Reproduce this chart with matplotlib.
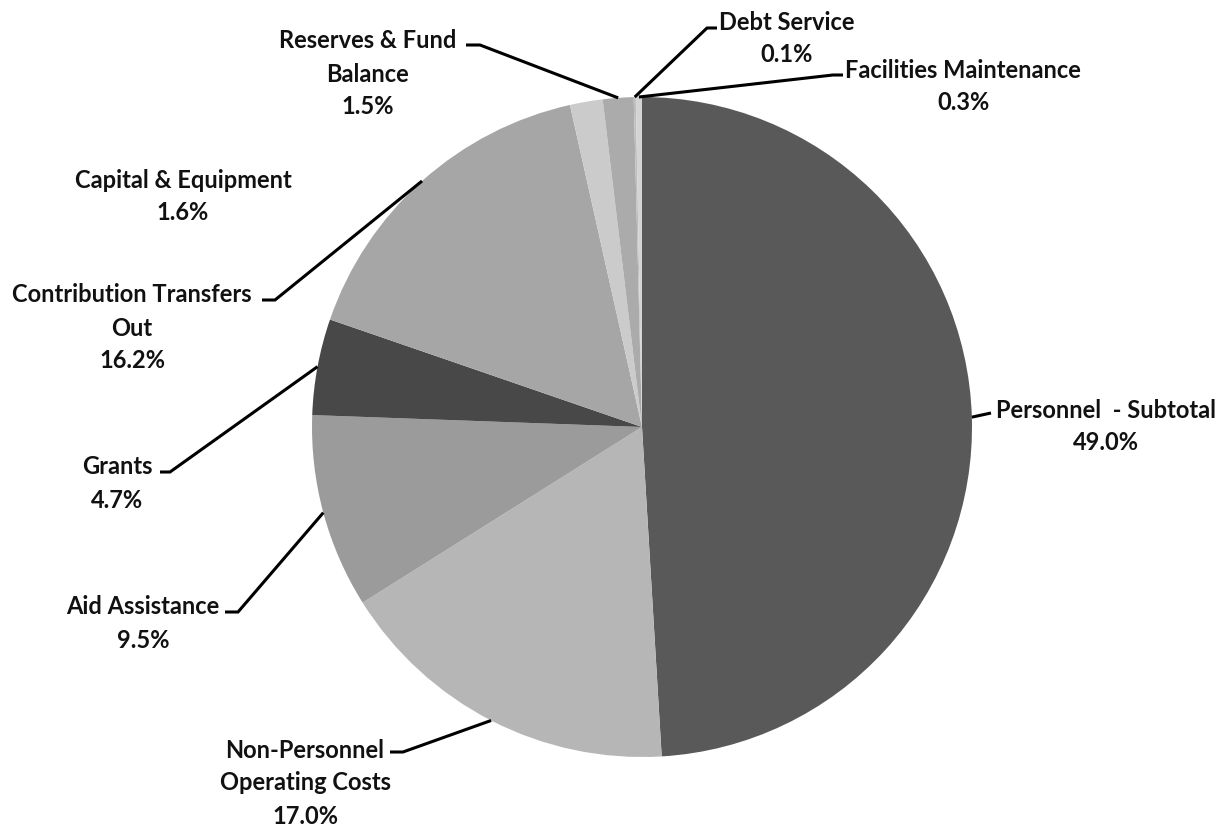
import numpy as np
import matplotlib
matplotlib.use("Agg")
import matplotlib.pyplot as plt

# ---- data ----
categories = ["Personnel  - Subtotal", "Non-Personnel\nOperating Costs", "Aid Assistance",
              "Grants", "Contribution Transfers\nOut", "Capital & Equipment",
              "Reserves & Fund\nBalance", "Debt Service", "Facilities Maintenance"]
shares = [49.0, 17.0, 9.5, 4.7, 16.2, 1.6, 1.5, 0.1, 0.3]
colors = ["#595959", "#b6b6b6", "#9b9b9b", "#484848", "#a6a6a6",
          "#cbcbcb", "#ababab", "#bdbdbd", "#d4d4d4"]

# ---- layout (pixel positions in image coordinates, y downward) ----
W, H = 1223, 831
CX, CY, R = 642, 427, 330
# label centre of first line, elbow point, end of horizontal tick (None = no leader line)
label_pos = [(1106, 410), (305, 750), (143, 607), (117, 467), (132, 295),
             (183, 180), (368, 41), (787, 22), (963, 70)]
elbows = [((991, 413), (991, 413)), ((403, 752), (390, 752)), ((238, 612), (225, 612)),
          ((170, 472), (160, 472)), ((275, 300), (262, 300)), None,
          ((480, 45), (466, 45)), ((707, 28), (717, 28)), ((833, 75), (843, 75))]
LINE_PITCH = 33

fig = plt.figure(figsize=(W / 100, H / 100), dpi=100)
ax = fig.add_axes([0, 0, 1, 1])

def Y(y):
    return H - y

wedges, _ = ax.pie(shares, colors=colors, startangle=90, counterclock=False,
                   center=(CX, Y(CY)), radius=R, wedgeprops=dict(linewidth=0))
ax.set_xlim(0, W)
ax.set_ylim(0, H)
ax.set_aspect("equal")
ax.axis("off")

font = dict(family=["Lato", "DejaVu Sans"], fontweight="bold", fontsize=17, color="#111111")

for w, name, val, (lx, ly), el in zip(wedges, categories, shares, label_pos, elbows):
    lines = name.split("\n") + [f"{val:.1f}%"]
    for i, t in enumerate(lines):
        ax.text(lx, Y(ly + i * LINE_PITCH), t, ha="center", va="center", **font)
    if el is not None:
        mid = np.deg2rad((w.theta1 + w.theta2) / 2)
        sx, sy = w.center[0] + R * np.cos(mid), w.center[1] + R * np.sin(mid)
        (ex, ey), (tx, ty) = el
        ax.plot([sx, ex, tx], [sy, Y(ey), Y(ty)], color="black", lw=2.2,
                solid_capstyle="butt", solid_joinstyle="miter")

fig.savefig("out.png", dpi=100, facecolor="white")
